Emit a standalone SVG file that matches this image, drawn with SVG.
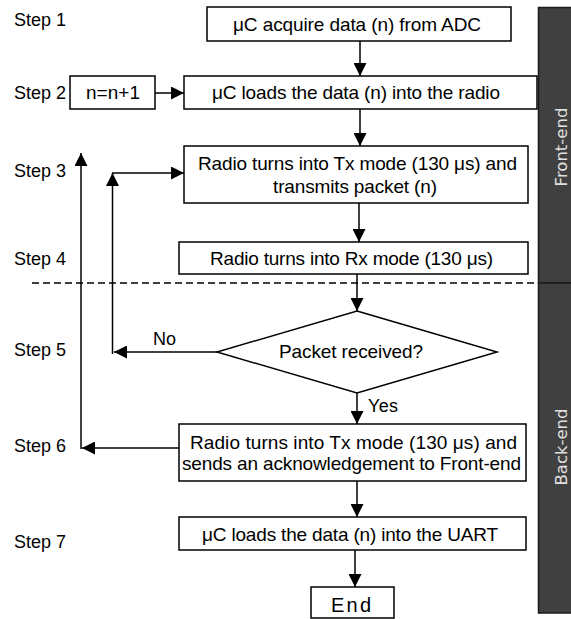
<svg xmlns="http://www.w3.org/2000/svg" width="571" height="619" viewBox="0 0 571 619">
<style>
text{font-family:"Liberation Sans",Arial,sans-serif;font-size:18px;fill:#000}
.bt{font-size:19px}
.box{fill:#fff;stroke:#000;stroke-width:1.5}
.ln{fill:none;stroke:#000;stroke-width:1.5}
.arr{fill:none;stroke:#000;stroke-width:1.5;marker-end:url(#ah)}
.side{font-family:"DejaVu Sans",sans-serif;font-size:16.5px;fill:#e0e0e0}
.panel{fill:#404040;stroke:#1a1a1a;stroke-width:1.5}
</style>
<defs>
<marker id="ah" markerUnits="userSpaceOnUse" markerWidth="13" markerHeight="13" refX="13" refY="6.5" orient="auto">
<path d="M0,0 L13,6.5 L0,13 Z" fill="#000"/>
</marker>
</defs>
<rect width="571" height="619" fill="#fff"/>

<g id="panel">
<rect class="panel" x="538.5" y="7.5" width="40" height="275.5"/>
<rect class="panel" x="538.5" y="283" width="40" height="330"/>
<text class="side" transform="translate(566.5,147) rotate(-90)" text-anchor="middle">Front-end</text>
<text class="side" transform="translate(566.5,447) rotate(-90)" text-anchor="middle">Back-end</text>
</g>

<g id="steps">
<text x="14" y="26">Step 1</text>
<text x="14" y="99">Step 2</text>
<text x="14" y="177">Step 3</text>
<text x="14" y="265">Step 4</text>
<text x="14" y="356">Step 5</text>
<text x="14" y="452">Step 6</text>
<text x="14" y="548">Step 7</text>
</g>

<g id="connectors">
<line x1="32" y1="283" x2="538" y2="283" stroke="#000" stroke-width="1.3" stroke-dasharray="7 4"/>
<line class="arr" x1="360" y1="41" x2="360" y2="76"/>
<line class="arr" x1="360" y1="109" x2="360" y2="146"/>
<line class="arr" x1="155" y1="93" x2="184" y2="93"/>
<line class="arr" x1="359" y1="203" x2="359" y2="242"/>
<line class="arr" x1="357" y1="274" x2="357" y2="311"/>
<line class="arr" x1="217" y1="352" x2="114" y2="352"/>
<line class="arr" x1="112.5" y1="354" x2="112.5" y2="173"/>
<line class="arr" x1="112" y1="173" x2="184" y2="173"/>
<line class="arr" x1="357" y1="393" x2="357" y2="424"/>
<line class="arr" x1="179" y1="448" x2="82" y2="448"/>
<line class="arr" x1="81" y1="449" x2="81" y2="153"/>
<line class="arr" x1="357" y1="481" x2="357" y2="517"/>
<line class="arr" x1="355" y1="550" x2="355" y2="587"/>
<text x="153" y="345" textLength="23" lengthAdjust="spacing">No</text>
<text x="368" y="412" textLength="30" lengthAdjust="spacing">Yes</text>
</g>

<g id="n1">
<rect class="box" x="207" y="7" width="304" height="34"/>
<text class="bt" x="233" y="30.5" textLength="248" lengthAdjust="spacing">μC acquire data (n) from ADC</text>
</g>
<g id="n2">
<rect class="box" x="184" y="76" width="353" height="33"/>
<text class="bt" x="212" y="99" textLength="288" lengthAdjust="spacing">μC loads the data (n) into the radio</text>
</g>
<g id="ninc">
<rect class="box" x="70" y="76" width="85" height="33"/>
<text class="bt" x="86" y="99" textLength="54" lengthAdjust="spacing">n=n+1</text>
</g>
<g id="n3">
<rect class="box" x="184" y="146" width="344" height="57"/>
<text class="bt" x="198" y="170" textLength="319" lengthAdjust="spacing">Radio turns into Tx mode (130 μs) and</text>
<text class="bt" x="273" y="192.5" textLength="164" lengthAdjust="spacing">transmits packet (n)</text>
</g>
<g id="n4">
<rect class="box" x="179" y="242" width="349" height="32"/>
<text class="bt" x="210" y="265" textLength="283" lengthAdjust="spacing">Radio turns into Rx mode (130 μs)</text>
</g>
<g id="n5">
<polygon class="box" points="357,311 497,352 357,393 217,352"/>
<text class="bt" x="279" y="357.5" textLength="144" lengthAdjust="spacing">Packet received?</text>
</g>
<g id="n6">
<rect class="box" x="179" y="424" width="347" height="57"/>
<text class="bt" x="190" y="448.5" textLength="327" lengthAdjust="spacing">Radio turns into Tx mode (130 μs)  and</text>
<text class="bt" x="182" y="469.5" textLength="339" lengthAdjust="spacing">sends an acknowledgement to Front-end</text>
</g>
<g id="n7">
<rect class="box" x="179" y="517" width="347" height="33"/>
<text class="bt" x="202" y="540.5" textLength="296" lengthAdjust="spacing">μC loads the data (n) into the UART</text>
</g>
<g id="end">
<rect class="box" x="311" y="587" width="83" height="31"/>
<text x="331" y="612" style="font-size:20px" textLength="40" lengthAdjust="spacing">End</text>
</g>
</svg>
